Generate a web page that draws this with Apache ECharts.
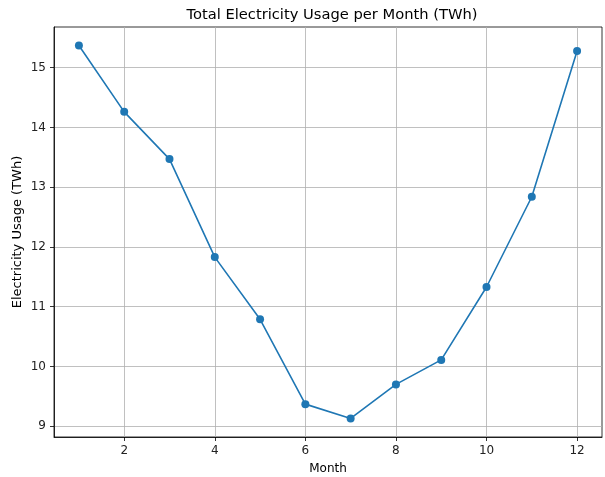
<!DOCTYPE html>
<html><head><meta charset="utf-8">
<script src="https://cdn.jsdelivr.net/npm/echarts@6/dist/echarts.min.js"></script>
<style>html,body{margin:0;padding:0;background:#fff}#c{width:605px;height:477px}</style>
</head><body><div id="c"></div>
<script>
const months = [1,2,3,4,5,6,7,8,9,10,11,12];
const usage = [15.37,14.26,13.47,11.83,10.79,9.37,9.13,9.70,10.11,11.33,12.84,15.28];
const xTicks = [2,4,6,8,10,12];
const yTicks = [9,10,11,12,13,14,15];
const font = 'DejaVu Sans';
const chart = echarts.init(document.getElementById('c'));
chart.setOption({
  animation:false,
  backgroundColor:'#fff',
  title:{text:'Total Electricity Usage per Month (TWh)',left:327,top:3,textAlign:'center',
    textStyle:{fontFamily:font,fontSize:14.7,fontWeight:'normal',color:'#000'}},
  grid:{left:54,right:3,top:27,bottom:40,outerBoundsMode:'none',containLabel:false,show:true,borderColor:'#000',borderWidth:0.8,backgroundColor:'transparent'},
  xAxis:{type:'value',min:0.45,max:12.55,name:'Month',nameLocation:'middle',nameGap:26,nameMoveOverlap:false,
    nameTextStyle:{fontFamily:font,fontSize:12,color:'#000'},
    axisLine:{show:true,lineStyle:{color:'#000',width:0.8}},
    axisTick:{show:true,length:4,customValues:xTicks,lineStyle:{color:'#000',width:0.8}},
    axisLabel:{customValues:xTicks,fontFamily:font,fontSize:12,color:'#222',margin:8},
    splitLine:{show:true,lineStyle:{color:'#b0b0b0',width:0.8}}},
  yAxis:{type:'value',min:8.82,max:15.68,name:'Electricity Usage (TWh)',nameLocation:'middle',nameGap:30,nameMoveOverlap:false,
    nameTextStyle:{fontFamily:font,fontSize:13,color:'#000'},
    axisLine:{show:true,lineStyle:{color:'#000',width:0.8}},
    axisTick:{show:true,length:4,customValues:yTicks,lineStyle:{color:'#000',width:0.8}},
    axisLabel:{customValues:yTicks,fontFamily:font,fontSize:12,color:'#222',margin:8},
    splitLine:{show:true,lineStyle:{color:'#b0b0b0',width:0.8}}},
  series:[{type:'line',data:months.map((m,i)=>[m,usage[i]]),symbol:'circle',symbolSize:8,
    lineStyle:{color:'#1f77b4',width:1.6},itemStyle:{color:'#1f77b4'}}]
});
</script></body></html>
